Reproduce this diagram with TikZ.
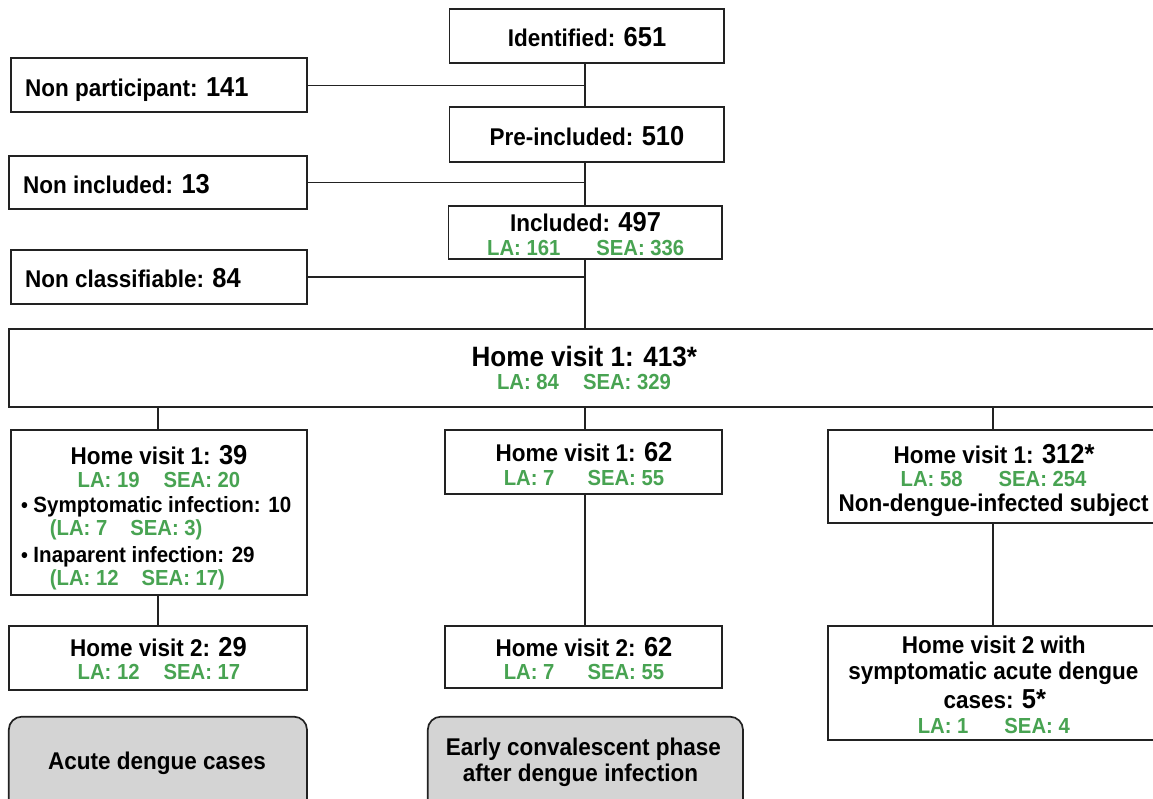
\documentclass[tikz,border=0pt]{standalone}
\usepackage{fontspec}
\setmainfont{Liberation Sans}[FakeStretch=0.93]
\definecolor{linegray}{RGB}{34,34,34}
\definecolor{cohort}{RGB}{72,163,82}
\definecolor{phasefill}{RGB}{212,212,212}
\newcommand\headfont{\bfseries\fontsize{24.2}{28}\selectfont}
\newcommand\countfont{\fontsize{27.4}{30}\selectfont}
\newcommand\subfont{\bfseries\fontsize{21.8}{25}\selectfont}
\newcommand\itemfont{\bfseries\fontsize{22.1}{25}\selectfont}
\newcommand\itemdot{\makebox[12.3pt][l]{\raisebox{0pt}{\fontsize{21}{21}\selectfont •}}}

\begin{document}
\begin{tikzpicture}[x=1pt,y=-1pt,
  box/.style={draw=linegray, line width=1.7pt, rectangle, inner sep=0pt, outer sep=0pt},
  phase/.style={box, fill=phasefill, rounded corners=13pt},
  head/.style={inner sep=0pt, anchor=base, font=\headfont},
  bighead/.style={inner sep=0pt, anchor=base, font=\bfseries\fontsize{28}{32}\selectfont},
  sub/.style={inner sep=0pt, anchor=base, font=\subfont, text=cohort},
  item/.style={inner sep=0pt, anchor=base west, font=\itemfont},
  link/.style={draw=linegray, line width=1.5pt}]

\useasboundingbox (0,0) rectangle (1153,798);
\clip (0,0) rectangle (1153,798);

% ---------- enrolment chain ----------
\node[box, minimum width=274.2pt, minimum height=54pt]   (ident)   at (586.7,36.3)  {};
\node[box, minimum width=296.3pt, minimum height=54pt]   (nonpart) at (158.85,85.3) {};
\node[box, minimum width=274.2pt, minimum height=54.4pt] (pre)     at (586.7,134.5) {};
\node[box, minimum width=298.2pt, minimum height=53.6pt] (noninc)  at (157.9,182.5) {};
\node[box, minimum width=273.8pt, minimum height=53.3pt] (inc)     at (585.4,232.65) {};
\node[box, minimum width=296.3pt, minimum height=54pt]   (noncl)   at (158.85,277)  {};
\node[box, minimum width=1156.2pt, minimum height=77.4pt] (hv)     at (586.9,368)   {};

% ---------- three branches ----------
\node[box, minimum width=296.3pt, minimum height=165pt]  (a1) at (158.85,512.5) {};
\node[box, minimum width=298.2pt, minimum height=64pt]   (a2) at (157.9,658)    {};
\node[phase, minimum width=298.2pt, minimum height=98.3pt] (acute) at (157.9,765.85) {};

\node[box, minimum width=277pt, minimum height=64pt]     (b1) at (583.5,462)    {};
\node[box, minimum width=277pt, minimum height=62.3pt]   (b2) at (583.5,657.15) {};
\node[phase, minimum width=315.2pt, minimum height=98.3pt] (early) at (585.4,765.85) {};

\node[box, minimum width=332.3pt, minimum height=93.3pt] (c1) at (993.85,476.65) {};
\node[box, minimum width=332.3pt, minimum height=114pt]  (c2) at (993.85,683)    {};

% ---------- connectors ----------
\coordinate (spine) at (585,0);
\coordinate (colA) at (158,0);
\coordinate (colB) at (585,0);
\coordinate (colC) at (993,0);

\draw[link] (ident.south -| spine) -- (pre.north -| spine);
\draw[link] (pre.south -| spine) -- (inc.north -| spine);
\draw[link] (inc.south -| spine) -- (hv.north -| spine);
\draw[link] (nonpart.east) -- (nonpart.east -| spine);
\draw[link] (noninc.east) -- (noninc.east -| spine);
\draw[link] (noncl.east) -- (noncl.east -| spine);

\draw[link] (hv.south -| colA) -- (a1.north -| colA);
\draw[link] (hv.south -| colB) -- (b1.north -| colB);
\draw[link] (hv.south -| colC) -- (c1.north -| colC);
\draw[link] (a1.south -| colA) -- (a2.north -| colA);
\draw[link] (b1.south -| colB) -- (b2.north -| colB);
\draw[link] (c1.south -| colC) -- (c2.north -| colC);

% ---------- labels ----------
\node[head] (identT) at (587,46.7) {Identified: {\countfont 651}};
\node[head, anchor=base west] (nonpartT) at (25,96.7) {Non participant: {\countfont 141}};
\node[head] (preT) at (587,145) {Pre-included: {\countfont 510}};
\node[head, anchor=base west] (nonincT) at (23,193.3) {Non included: {\countfont 13}};
\node[head] (incT) at (585.5,231.7) {Included: {\countfont 497}};
\node[sub] (incS) at (585.7,255) {LA: 161\hspace{36pt}SEA: 336};
\node[head, anchor=base west] (nonclT) at (25,287.3) {Non classifiable: {\countfont 84}};

\node[bighead] (hvT) at (584.3,366.7) {Home visit 1: 413*};
\node[sub] (hvS) at (584,389.3) {LA: 84\hspace{24pt}SEA: 329};

% left branch
\node[head] (a1T) at (159,464) {Home visit 1: {\countfont 39}};
\node[sub] (a1S) at (159,487.3) {LA: 19\hspace{24pt}SEA: 20};
\node[item] (a1i) at (21,512) {\itemdot Symptomatic infection: 10};
\node[item, text=cohort, font=\subfont] (a1iS) at (49.7,535) {(LA: 7\hspace{23pt}SEA: 3)};
\node[item] (a1j) at (21,562) {\itemdot Inaparent infection: 29};
\node[item, text=cohort, font=\subfont] (a1jS) at (49.7,585) {(LA: 12\hspace{23pt}SEA: 17)};
\node[head] (a2T) at (158.4,656.7) {Home visit 2: {\countfont 29}};
\node[sub] (a2S) at (159,679.3) {LA: 12\hspace{24pt}SEA: 17};
\node[head] (acuteT) at (157,769.3) {Acute dengue cases};

% middle branch
\node[head] (b1T) at (584,461.7) {Home visit 1: {\countfont 62}};
\node[sub] (b1S) at (584,485) {LA: 7\hspace{33pt}SEA: 55};
\node[head] (b2T) at (584,656.7) {Home visit 2: {\countfont 62}};
\node[sub] (b2S) at (584,679.3) {LA: 7\hspace{33pt}SEA: 55};
\node[head] (earlyT1) at (583.4,755) {Early convalescent phase};
\node[head] (earlyT2) at (580.5,781) {after dengue infection};

% right branch
\node[head] (c1T) at (994,463.3) {Home visit 1: {\countfont 312*}};
\node[sub] (c1S) at (993.6,486.7) {LA: 58\hspace{36pt}SEA: 254};
\node[head] (c1N) at (993.6,511.7) {Non-dengue-infected subject};
\node[head] (c2T1) at (993.8,653.3) {Home visit 2 with};
\node[head] (c2T2) at (993.4,679.3) {symptomatic acute dengue};
\node[head] (c2T3) at (994.8,708.3) {cases: {\countfont 5*}};
\node[sub] (c2S) at (993.8,733.3) {LA: 1\hspace{36pt}SEA: 4};
\end{tikzpicture}
\end{document}
